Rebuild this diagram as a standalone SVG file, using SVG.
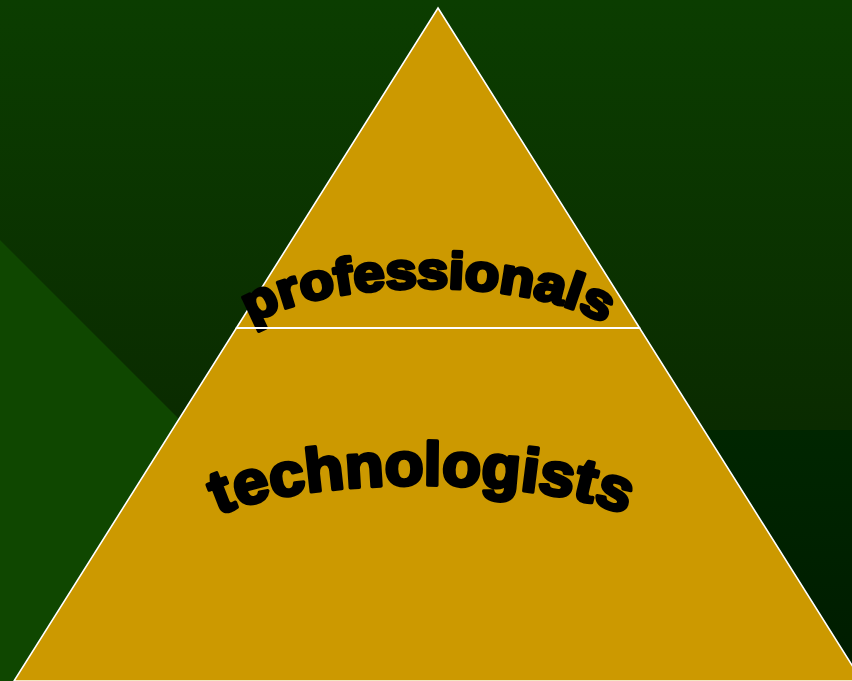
<svg xmlns="http://www.w3.org/2000/svg" width="852" height="681" viewBox="0 0 852 681">
  <defs>
    <linearGradient id="bgGrad" x1="0" y1="0" x2="0" y2="1">
      <stop offset="0" stop-color="#0b3d00"/>
      <stop offset="0.63" stop-color="#0a2b00"/>
      <stop offset="1" stop-color="#082400"/>
    </linearGradient>
    <linearGradient id="darkGrad" x1="0" y1="0" x2="0" y2="1">
      <stop offset="0" stop-color="#002600"/>
      <stop offset="1" stop-color="#001c00"/>
    </linearGradient>
    <path id="arcTop" d="M 228,356 A 200 68 0 0 1 628,356"/>
    <path id="arcBottom" d="M 194,540 A 228 55 0 0 1 650,540"/>
    <style>
      .tier { fill: #cc9900; stroke: #ffffff; stroke-width: 1.6; stroke-linejoin: miter; }
      .divider { stroke: #ffffff; stroke-width: 2.2; }
      .label { font-family: "Liberation Sans", Arial, sans-serif; font-weight: bold; fill: #000000; stroke: #000000; stroke-width: 3.6; stroke-linejoin: round; }
    </style>
  </defs>

  <g id="background">
    <rect x="0" y="0" width="852" height="681" fill="url(#bgGrad)"/>
    <polygon points="0,240 441,681 0,681" fill="#0f4700"/>
    <rect x="600" y="430" width="252" height="251" fill="url(#darkGrad)"/>
  </g>

  <g id="tier-bottom">
    <polygon class="tier" points="236.4,328 639.6,328 862,681 14,681"/>
    <text class="label" font-size="61" text-anchor="middle">
      <textPath href="#arcBottom" startOffset="50%" textLength="414" lengthAdjust="spacingAndGlyphs">technologists</textPath>
    </text>
  </g>

  <g id="tier-top">
    <polygon class="tier" points="438,8 639.6,328 236.4,328"/>
    <text class="label" font-size="51" text-anchor="middle">
      <textPath href="#arcTop" startOffset="50%" textLength="364" lengthAdjust="spacingAndGlyphs">professionals</textPath>
    </text>
  </g>

  <g id="connectors">
    <line class="divider" x1="236.4" y1="328" x2="639.6" y2="328"/>
  </g>
</svg>
